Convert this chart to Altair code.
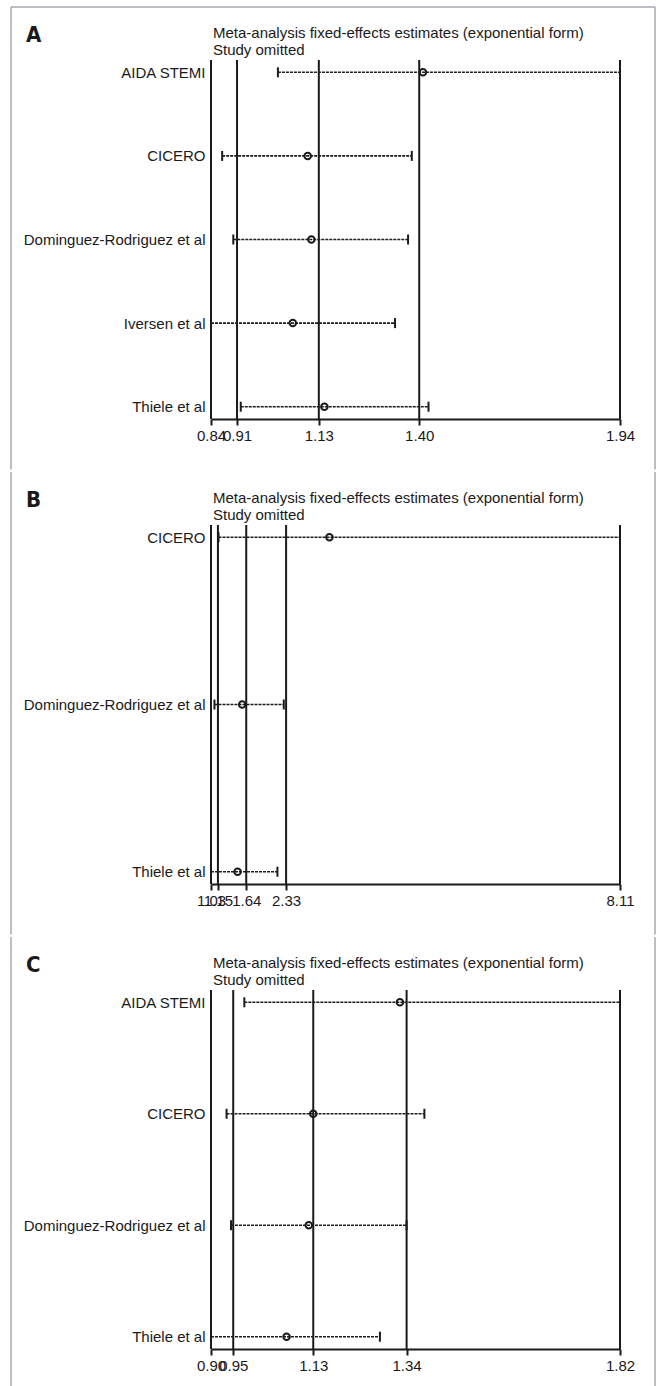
import altair as alt
import pandas as pd

TITLE1 = "Meta-analysis fixed-effects estimates (exponential form)"
TITLE2 = "Study omitted"

# Panel A
a_studies = ["AIDA STEMI", "CICERO", "Dominguez-Rodriguez et al", "Iversen et al", "Thiele et al"]
a_est = [1.41, 1.10, 1.11, 1.06, 1.145]
a_lo = [1.02, 0.87, 0.90, 0.84, 0.92]
a_hi = [1.94, 1.38, 1.37, 1.335, 1.425]
a_ticks = [0.84, 0.91, 1.13, 1.40, 1.94]

# Panel B
b_studies = ["CICERO", "Dominguez-Rodriguez et al", "Thiele et al"]
b_est = [3.08, 1.57, 1.49]
b_lo = [1.16, 1.09, 1.03]
b_hi = [8.11, 2.29, 2.18]
b_ticks = [1.03, 1.15, 1.64, 2.33, 8.11]

# Panel C
c_studies = ["AIDA STEMI", "CICERO", "Dominguez-Rodriguez et al", "Thiele et al"]
c_est = [1.325, 1.13, 1.12, 1.07]
c_lo = [0.975, 0.935, 0.945, 0.90]
c_hi = [1.82, 1.38, 1.34, 1.28]
c_ticks = [0.90, 0.95, 1.13, 1.34, 1.82]

H = 359
W = 409
PAD_PX = 12.3
FONT = "Liberation Sans, Arial, Helvetica, sans-serif"
LETTER_FONT = ("Liberation Sans Narrow, Noto Sans ExtraCondensed, Noto Sans Condensed, "
               "DejaVu Sans Condensed, Roboto Condensed, Liberation Sans, sans-serif")
INK = "#1a1a1a"
BORDER = "#a9a9b1"


def panel(letter, studies, est, lo, hi, ticks, first=False, last=False):
    df = pd.DataFrame({"study": studies, "est": est, "lo": lo, "hi": hi})
    n = len(studies)
    step = (H - 2 * PAD_PX) / (n - 1)
    xscale = alt.Scale(domain=[ticks[0], ticks[-1]], nice=False, zero=False)
    yscale = alt.Scale(type="point", domain=studies, padding=PAD_PX / step)
    x_axis = alt.Axis(values=ticks, labelExpr="format(datum.value, '.2f')", title=None,
                      grid=False, labelOverlap=False, labelFlush=False,
                      domainColor=INK, domainWidth=2, tickColor=INK, tickWidth=2,
                      tickSize=6, labelPadding=3, labelFont=FONT, labelFontSize=15,
                      labelColor=INK)
    y_axis = alt.Axis(title=None, domain=False, ticks=False, grid=False, labelPadding=6,
                      labelFont=FONT, labelFontSize=15, labelColor=INK, labelLimit=0)
    X = lambda f: alt.X(f, scale=xscale, axis=x_axis)
    Y = alt.Y("study:N", scale=yscale, axis=y_axis, sort=studies)

    vlines = alt.Chart(pd.DataFrame({"v": ticks})).mark_rule(
        strokeWidth=2, color=INK).encode(x=X("v:Q"))
    base = alt.Chart(df)
    whisk = base.mark_rule(strokeDash=[3, 1], strokeWidth=1.6, color="#1e1e1e").encode(
        x=X("lo:Q"), x2="hi:Q", y=Y)
    cap_lo = base.mark_tick(size=10, thickness=2, color=INK, opacity=1).encode(x=X("lo:Q"), y=Y)
    cap_hi = base.mark_tick(size=10, thickness=2, color=INK, opacity=1).encode(x=X("hi:Q"), y=Y)
    pts = base.mark_point(shape="circle", filled=False, size=42, strokeWidth=2,
                          color=INK, opacity=1).encode(x=X("est:Q"), y=Y)

    one = pd.DataFrame({"t": [letter], "t1": [TITLE1], "t2": [TITLE2]})
    txt = alt.Chart(one)
    let = txt.mark_text(align="left", baseline="alphabetic", font=LETTER_FONT,
                        fontSize=22, fontWeight="bold", color=INK).encode(
        x=alt.value(-185), y=alt.value(-18), text="t:N")
    t1 = txt.mark_text(align="left", baseline="alphabetic", font=FONT, fontSize=15,
                       color=INK).encode(x=alt.value(2), y=alt.value(-22), text="t1:N")
    t2 = txt.mark_text(align="left", baseline="alphabetic", font=FONT, fontSize=15,
                       color=INK).encode(x=alt.value(2), y=alt.value(-5), text="t2:N")

    y_end = 397 if last else 409.5
    bl = txt.mark_rule(color=BORDER, strokeWidth=1.5).encode(
        x=alt.value(-200), y=alt.value(-53), y2=alt.value(y_end))
    br = txt.mark_rule(color=BORDER, strokeWidth=1.5).encode(
        x=alt.value(444), y=alt.value(-53), y2=alt.value(y_end))
    layers = [vlines, whisk, cap_lo, cap_hi, pts, let, t1, t2, bl, br]
    if first:
        bt = txt.mark_rule(color=BORDER, strokeWidth=1.5).encode(
            x=alt.value(-200), x2=alt.value(444), y=alt.value(-53))
        layers.append(bt)
    return alt.layer(*layers).properties(width=W, height=H)


pA = panel("A", a_studies, a_est, a_lo, a_hi, a_ticks, first=True)
pB = panel("B", b_studies, b_est, b_lo, b_hi, b_ticks)
pC = panel("C", c_studies, c_est, c_lo, c_hi, c_ticks, last=True)

chart = alt.vconcat(pA, pB, pC, spacing=0).properties(
    padding={"left": 10, "top": 6, "right": 0, "bottom": 0},
    background="white",
).configure_view(stroke=None)

chart.save("out.html", embed_options={"renderer": "svg", "actions": False})
